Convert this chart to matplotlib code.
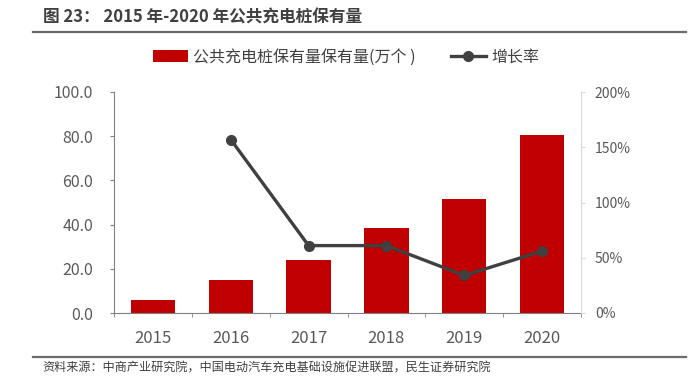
import matplotlib
matplotlib.use("Agg")
import matplotlib.pyplot as plt
from matplotlib.lines import Line2D
from matplotlib.patches import Patch
from matplotlib.ticker import FixedLocator, FuncFormatter

plt.rcParams['font.family'] = ['Noto Sans CJK SC', 'DejaVu Sans']

years = ['2015', '2016', '2017', '2018', '2019', '2020']
stock = [5.8, 14.9, 24.0, 38.6, 51.6, 80.7]
growth = [None, 157, 61, 61, 34, 56]
bar_label = '公共充电桩保有量保有量(万个 )'
line_label = '增长率'
title = '图 23： 2015 年-2020 年公共充电桩保有量'
source = '资料来源：中商产业研究院，中国电动汽车充电基础设施促进联盟，民生证券研究院'

W, H = 698, 384
fig = plt.figure(figsize=(W / 100, H / 100), dpi=100)
ax = fig.add_axes([114 / W, 1 - 313 / H, (581 - 114) / W, (313 - 92) / H])
ax2 = ax.twinx()

x = list(range(len(years)))
ax.bar(x, stock, width=0.57, color='#C00000', zorder=2)
gx = [i for i, g in zip(x, growth) if g is not None]
gy = [g for g in growth if g is not None]
ax2.plot(gx, gy, color='#404040', lw=2.4, marker='o', ms=7, zorder=3)

ax.set_xlim(-0.5, len(years) - 0.5)
ax.set_ylim(0, 100)
ax2.set_ylim(0, 200)
ax.set_yticks([0, 20, 40, 60, 80, 100])
ax.yaxis.set_major_formatter(FuncFormatter(lambda v, p: f'{v:.1f}'))
ax2.set_yticks([0, 50, 100, 150, 200])
ax2.yaxis.set_major_formatter(FuncFormatter(lambda v, p: f'{int(v)}%'))

ax.set_xticks(x)
ax.set_xticklabels(years)
ax.xaxis.set_minor_locator(FixedLocator([i - 0.5 for i in range(len(years) + 1)]))
ax.tick_params(axis='x', which='major', length=0, pad=12, labelsize=12, labelcolor='#595959')
ax.tick_params(axis='x', which='minor', length=3, color='#808080', direction='out')
ax.tick_params(axis='y', length=3, color='#808080', labelsize=11.5, labelcolor='#595959', pad=12)
ax2.tick_params(axis='y', length=3, color='#d9d9d9', labelsize=10, labelcolor='#595959', pad=7)

for s in ['top']:
    ax.spines[s].set_visible(False)
    ax2.spines[s].set_visible(False)
ax.spines['left'].set_color('#808080')
ax.spines['bottom'].set_color('#808080')
ax.spines['right'].set_visible(False)
ax2.spines['left'].set_visible(False)
ax2.spines['bottom'].set_visible(False)
ax2.spines['right'].set_color('#d9d9d9')

handles = [Patch(facecolor='#C00000', edgecolor='none'),
           Line2D([0], [0], color='#404040', lw=2.4, marker='o', ms=7)]
fig.legend(handles, [bar_label, line_label], ncol=2, loc='center',
           bbox_to_anchor=(346 / W, 1 - 57 / H), frameon=False, fontsize=11.5,
           labelcolor='#404040', handlelength=2.2, handleheight=0.8,
           columnspacing=2.2, handletextpad=0.3)

fig.text(43 / W, 1 - 18 / H, title, fontsize=12, fontweight='bold', color='#404040',
         ha='left', va='center')
fig.add_artist(Line2D([33 / W, 686 / W], [1 - 31.5 / H, 1 - 31.5 / H], color='#6b6b6b', lw=1.6))
fig.add_artist(Line2D([33 / W, 686 / W], [1 - 356.5 / H, 1 - 356.5 / H], color='#6b6b6b', lw=1.6))
fig.text(42 / W, 1 - 368 / H, source, fontsize=8.7, color='#404040', ha='left', va='center')

fig.savefig('out.png', dpi=100)
